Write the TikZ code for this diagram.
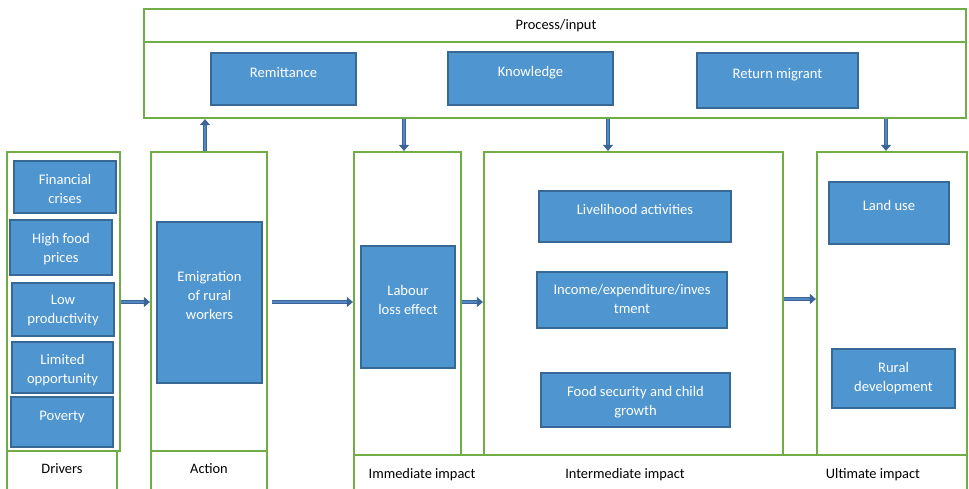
\documentclass[tikz,border=0pt]{standalone}
\usepackage{fontspec}
\setmainfont{Carlito}
\usetikzlibrary{fit,arrows.meta}

\definecolor{boxfill}{RGB}{79,150,209}
\definecolor{boxedge}{RGB}{56,104,150}
\definecolor{frame}{RGB}{112,173,71}
\definecolor{arrowedge}{RGB}{60,100,150}
\definecolor{arrowfill}{RGB}{82,135,195}

\tikzset{
  bbox/.style={draw=boxedge, fill=boxfill, line width=1.8pt, inner sep=0pt},
  btext/.style={text=white, font=\fontsize{14.6}{19}\selectfont, align=center, inner sep=0pt},
  gframe/.style={draw=frame, line width=2.2pt, inner sep=0pt},
  ltext/.style={text=black, font=\fontsize{14.4}{17}\selectfont, inner sep=0pt},
  flow/.style={draw=arrowedge, line width=1pt, double=arrowfill, double distance=2.6pt,
    -{Triangle[length=6pt,width=10pt]}},
}

% blue text box: name, x1, y1, x2, y2, top offset of the text, text
\newcommand\bluebox[7]{%
  \node[bbox, fit={(#2,#3)(#4,#5)}] (#1) {};
  \node[btext, anchor=north] (#1-t) at ([yshift=-#6pt]#1.north) {#7};
}

\begin{document}
\begin{tikzpicture}[x=1pt, y=-1pt]
\useasboundingbox (0,0) rectangle (969,488);

% process / input band
\node[gframe, fit={(144,9)(966,42)}] (proc) {};
\node[gframe, fit={(144,42)(966,118)}] (inputs) {};
\node[ltext] (proc-t) at (556,26) {Process/input};

\bluebox{remit}{211}{53}{356}{105}{15}{Remittance}
\bluebox{know}{448}{52}{613}{105}{15}{Knowledge}
\bluebox{ret}{697}{53}{858}{108}{16}{Return migrant}

% column frames
\node[gframe, fit={(7,152)(120,451)}] (drivers) {};
\node[gframe, fit={(151,152)(267,451)}] (action) {};
\node[gframe, fit={(354,152)(461,455)}] (immediate) {};
\node[gframe, fit={(484,152)(783,455)}] (intermediate) {};
\node[gframe, fit={(817,152)(967,455)}] (ultimate) {};

% caption cells along the bottom
\node[gframe, fit={(7,451)(117,495)}] (drivers-cap) {};
\node[gframe, fit={(151,451)(267,495)}] (action-cap) {};
\node[gframe, fit={(354,455)(967,495)}] (impact-cap) {};
\node[ltext] (drivers-l) at (62,469) {Drivers};
\node[ltext] (action-l) at (209,469) {Action};
\node[ltext] (imm-l) at (422,475) {Immediate impact};
\node[ltext] (int-l) at (625,475) {Intermediate impact};
\node[ltext] (ult-l) at (873,475) {Ultimate impact};

% drivers
\bluebox{fin}{14}{161}{116}{213}{14}{Financial\\crises}
\bluebox{food}{10}{220}{112}{275}{14}{High food\\prices}
\bluebox{low}{12}{283}{114}{336}{13}{Low\\productivity}
\bluebox{lim}{12}{342}{113}{393}{13}{Limited\\opportunity}
\bluebox{pov}{11}{397}{113}{447}{15}{Poverty}

% action and impacts
\bluebox{emig}{157}{222}{262}{383}{50}{Emigration\\of rural\\workers}
\bluebox{labour}{361}{246}{455}{368}{40}{Labour\\loss effect}
\bluebox{liveli}{539}{191}{731}{242}{14}{Livelihood activities}
\bluebox{income}{537}{272}{727}{328}{13}{Income/expenditure/inves\\tment}
\bluebox{foodsec}{541}{373}{730}{427}{14}{Food security and child\\growth}
\bluebox{land}{829}{182}{949}{244}{19}{Land use}
\bluebox{rural}{832}{349}{955}{408}{14}{Rural\\development}

% connectors
\draw[flow] (drivers.east |- 0,302) -- (action.west |- 0,302);
\draw[flow] ([xshift=4pt]action.east |- 0,302) -- (immediate.west |- 0,302);
\draw[flow] (immediate.east |- 0,302) -- (intermediate.west |- 0,302);
\draw[flow] (intermediate.east |- 0,299) -- (ultimate.west |- 0,299);
\draw[flow] (205,0 |- action.north) -- (205,0 |- inputs.south);
\draw[flow] (404,0 |- inputs.south) -- (404,0 |- immediate.north);
\draw[flow] (608,0 |- inputs.south) -- (608,0 |- intermediate.north);
\draw[flow] (886,0 |- inputs.south) -- (886,0 |- ultimate.north);
\end{tikzpicture}
\end{document}
